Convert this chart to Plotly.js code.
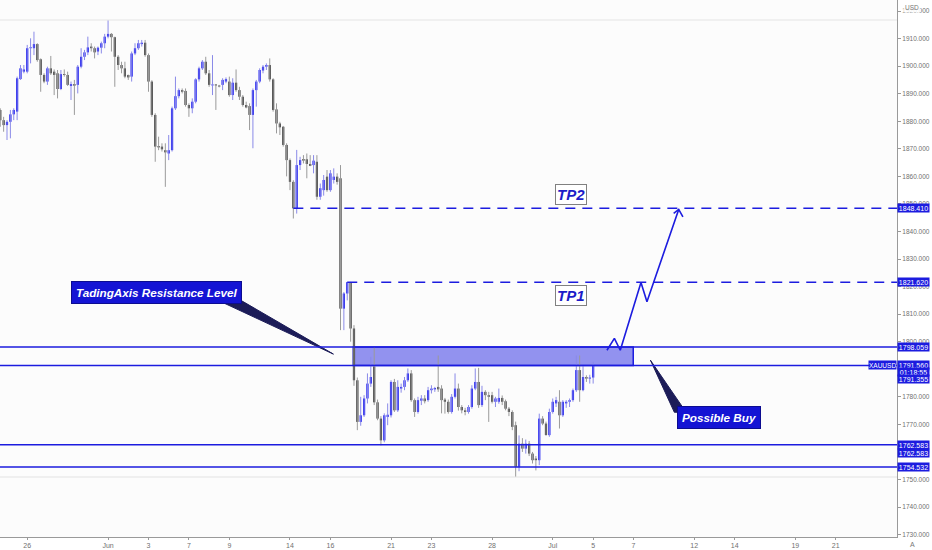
<!DOCTYPE html>
<html><head><meta charset="utf-8">
<script src="https://cdn.plot.ly/plotly-3.0.1.min.js"></script>
<style>html,body{margin:0;padding:0;background:#fff}#chart{width:932px;height:550px}</style>
</head><body><div id="chart"></div>
<script>
// ---- XAUUSD 4H candles ----
const opens  = [1884.1,1880.4,1878.6,1879.8,1882.5,1883.5,1895.3,1898.0,1898.0,1906.5,1906.5,1908.0,1902.5,1896.8,1894.4,1899.2,1898.0,1897.4,1891.7,1897.1,
1896.8,1892.8,1893.5,1893.2,1899.8,1903.4,1905.0,1907.1,1906.5,1905.3,1906.7,1908.3,1910.7,1911.7,1910.5,1903.4,1900.4,1899.2,1896.8,1896.2,
1904.6,1906.5,1908.0,1908.5,1904.0,1894.4,1882.3,1871.0,1870.8,1869.5,1868.3,1869.5,1884.7,1889.1,1891.3,1891.0,1885.9,1884.7,1887.1,1895.2,
1899.2,1901.6,1897.4,1893.0,1893.2,1892.9,1893.2,1894.4,1894.4,1889.5,1894.0,1891.3,1888.9,1885.9,1885.5,1882.3,1891.3,1894.4,1898.4,1899.8,
1900.4,1895.2,1884.3,1879.2,1878.0,1871.4,1865.9,1858.0,1848.4,1864.1,1866.3,1866.2,1864.5,1864.1,1865.3,1852.6,1855.0,1859.9,1855.0,1858.7,
1859.9,1859.3,1812.0,1817.5,1821.6,1804.8,1786.0,1770.9,1773.3,1779.4,1784.8,1791.0,1778.0,1772.1,1764.2,1772.7,1773.3,1785.4,1775.1,1783.0,
1783.6,1786.0,1788.5,1778.8,1774.5,1778.6,1779.4,1778.8,1782.4,1782.7,1783.6,1783.0,1779.0,1778.2,1774.5,1780.0,1783.0,1776.3,1775.1,1774.5,
1776.3,1783.0,1785.4,1777.0,1781.8,1780.6,1780.6,1778.2,1778.2,1779.6,1778.4,1775.7,1774.5,1769.7,1754.6,1763.0,1761.2,1763.0,1759.4,1757.6,
1757.0,1772.1,1770.3,1766.1,1774.5,1777.6,1778.2,1773.3,1777.6,1778.2,1778.8,1782.4,1789.7,1782.4,1787.2,1786.6,1787.0];
const highs  = [1884.7,1881.6,1880.4,1884.1,1884.7,1896.2,1900.4,1900.4,1907.7,1910.1,1912.5,1908.3,1902.8,1897.4,1899.8,1903.7,1898.8,1898.6,1898.6,1898.8,
1898.0,1894.4,1895.0,1900.4,1906.5,1905.9,1910.7,1908.3,1907.1,1907.1,1908.9,1911.7,1916.7,1912.0,1910.7,1904.0,1901.6,1901.6,1896.9,1905.3,
1908.3,1909.5,1909.5,1909.5,1904.6,1894.9,1882.9,1874.4,1872.0,1872.0,1875.0,1885.3,1896.2,1891.9,1891.9,1891.9,1886.5,1888.3,1895.6,1899.8,
1902.2,1903.4,1898.6,1904.0,1893.5,1893.2,1895.6,1895.9,1896.2,1895.6,1898.8,1892.5,1889.5,1887.1,1886.5,1891.9,1895.0,1899.2,1900.4,1901.0,
1902.8,1895.6,1886.5,1879.8,1878.3,1872.0,1866.5,1858.6,1869.6,1867.1,1867.7,1868.3,1867.7,1867.7,1867.7,1857.4,1860.5,1862.3,1862.3,1862.9,
1861.1,1864.1,1818.0,1821.7,1821.7,1806.0,1787.0,1780.0,1780.6,1788.5,1794.5,1798.0,1779.0,1773.0,1774.0,1777.6,1786.0,1786.5,1786.0,1784.8,
1787.2,1790.3,1789.7,1779.4,1780.0,1780.6,1780.6,1783.6,1784.2,1783.6,1795.0,1784.2,1779.6,1779.0,1781.0,1788.5,1784.8,1777.0,1776.0,1777.0,
1784.2,1790.3,1790.5,1784.0,1782.4,1781.8,1781.8,1780.0,1783.0,1780.5,1779.0,1776.3,1775.1,1771.0,1766.0,1765.0,1764.5,1764.0,1760.0,1758.5,
1773.9,1773.0,1771.0,1775.7,1779.4,1780.0,1782.4,1778.8,1778.8,1779.4,1783.0,1795.0,1795.0,1791.5,1787.8,1788.0,1792.7];
const lows   = [1878.0,1876.2,1873.2,1873.8,1880.4,1880.4,1895.0,1897.4,1897.4,1901.0,1904.0,1901.6,1890.7,1893.8,1893.2,1896.8,1889.5,1888.3,1891.3,1896.2,
1892.8,1887.7,1882.3,1890.1,1899.2,1902.2,1904.0,1905.3,1902.8,1904.0,1904.6,1906.5,1910.1,1905.3,1892.5,1898.6,1897.4,1895.6,1895.0,1894.4,
1904.0,1905.9,1907.1,1903.4,1890.7,1881.6,1865.3,1869.5,1869.0,1856.2,1865.9,1869.0,1884.1,1888.3,1890.1,1885.3,1881.6,1882.9,1886.5,1894.4,
1898.6,1896.8,1892.5,1889.5,1884.1,1892.3,1891.3,1893.8,1888.9,1887.7,1890.7,1887.7,1885.3,1884.7,1876.8,1870.2,1885.3,1893.8,1897.4,1898.6,
1894.4,1883.5,1875.6,1875.0,1870.8,1860.0,1855.0,1844.7,1846.5,1862.3,1864.7,1859.3,1863.7,1861.1,1851.5,1851.5,1853.0,1854.4,1854.4,1857.4,
1857.0,1804.2,1804.2,1815.0,1800.0,1784.0,1767.9,1769.5,1772.7,1777.6,1783.6,1777.0,1771.5,1762.4,1763.5,1769.7,1772.5,1774.5,1774.5,1781.5,
1782.4,1785.4,1778.2,1772.7,1773.9,1777.0,1777.6,1778.2,1781.2,1781.8,1781.8,1774.0,1773.9,1773.9,1773.9,1779.4,1775.0,1774.0,1773.3,1773.9,
1775.7,1782.4,1776.0,1776.3,1778.8,1770.9,1777.6,1776.3,1777.5,1777.0,1775.1,1773.0,1767.9,1750.9,1753.0,1760.0,1759.4,1758.5,1755.8,1753.3,
1755.2,1769.7,1766.0,1765.5,1773.9,1776.3,1768.5,1772.7,1776.0,1776.3,1778.2,1781.8,1778.2,1782.0,1785.4,1784.8,1784.8];
const closes = [1880.4,1878.6,1879.8,1882.5,1884.1,1895.6,1899.2,1898.8,1906.5,1906.8,1908.0,1902.2,1896.8,1894.4,1899.2,1897.4,1896.8,1891.7,1897.1,1896.8,
1893.2,1893.5,1892.9,1899.8,1903.4,1905.0,1906.8,1906.5,1905.0,1906.7,1908.3,1910.7,1911.7,1910.5,1903.4,1900.4,1899.2,1896.2,1895.9,1904.6,
1906.5,1908.3,1908.5,1904.0,1894.4,1882.3,1870.8,1870.5,1869.8,1868.7,1869.5,1884.7,1889.1,1891.3,1890.7,1885.9,1884.7,1887.1,1895.2,1899.2,
1901.6,1897.4,1893.2,1893.2,1893.0,1892.6,1895.0,1895.3,1889.5,1894.0,1891.3,1888.9,1885.9,1885.0,1882.3,1891.3,1894.4,1898.6,1899.8,1900.4,
1895.2,1884.1,1879.2,1877.8,1871.4,1865.9,1858.0,1848.4,1864.1,1865.9,1865.7,1864.5,1863.8,1865.7,1852.6,1855.7,1858.7,1855.0,1861.1,1859.9,
1858.0,1812.0,1817.5,1821.6,1804.8,1786.0,1770.9,1773.3,1779.4,1784.8,1787.2,1778.0,1772.1,1764.2,1773.3,1773.5,1785.4,1775.1,1783.6,1783.6,
1786.0,1788.5,1778.8,1774.5,1778.8,1779.4,1778.4,1782.4,1783.0,1783.2,1782.7,1778.8,1778.2,1774.5,1780.0,1783.0,1776.3,1775.1,1774.5,1776.3,
1783.0,1785.4,1777.0,1781.8,1780.6,1780.0,1778.2,1779.4,1779.6,1778.2,1775.7,1774.5,1769.1,1754.6,1763.0,1761.2,1763.0,1759.4,1757.0,1757.0,
1772.1,1770.3,1766.1,1774.5,1778.2,1778.8,1773.3,1778.2,1778.2,1778.8,1782.4,1789.7,1782.4,1787.2,1786.6,1787.0,1791.56];
const firstBarUTC = [2021, 4, 24, 16];   // first 4H bar: 24 May 2021 16:00
const barHours = 4;

// ---- axis text ----
const tickDays   = ['2021-05-26','2021-06-01','2021-06-03','2021-06-07','2021-06-09','2021-06-14','2021-06-16','2021-06-21','2021-06-23','2021-06-28','2021-07-01','2021-07-05','2021-07-07','2021-07-12','2021-07-14','2021-07-19','2021-07-21'];
const tickLabels = ['26','Jun','3','7','9','14','16','21','23','28','Jul','5','7','12','14','19','21'];

// ---- drawings (bar index, price) ----
const solidLevels  = [1798.059, 1791.355, 1762.583, 1754.532];
const targetPrices = [1848.410, 1821.620];
const targetStart  = [87, 103];
const targetNames  = ['TP2', 'TP1'];
const targetLabelBar = 169.5;
const targetLabelPrice = [1853.6, 1816.9];
const zoneBars   = [104.8, 187.9];
const zonePrices = [1791.355, 1798.059];
const pathBars   = [180.1, 182.3, 184.05, 190.2, 191.97, 201.4];
const pathPrices = [1796.9, 1801.2, 1796.9, 1821.5, 1814.5, 1848.0];
const headBars   = [199.9, 201.4, 202.65];
const headPrices = [1846.6, 1848.0, 1845.3];
const calloutText   = ['TadingAxis Resistance Level', 'Possible Buy'];
const calloutBar    = [46.4, 213.3];
const calloutPrice  = [1818.0, 1772.4];
const tailBars   = [[64.5, 71.3, 98.9], [200.1, 203.6, 193.0]];
const tailPrices = [[1815.1, 1815.1, 1795.5], [1774.4, 1774.4, 1793.3]];
const lastPrice = 1791.560, countdown = '01:18:55', symbol = 'XAUUSD', currency = 'USD';
const tagPrices = [1848.410, 1821.620, 1798.059, 1762.583, 1754.532];
const viewBars = [-0.08, 266.2];
const faintPrice = 1750.9;

// ---- time helpers ----
const H = 3600e3;
const slots = [];
(function(){
  let t = Date.UTC(...firstBarUTC);
  while (slots.length < 300) {
    const wd = new Date(t).getUTCDay();
    if (wd !== 0 && wd !== 6) slots.push(t);
    t += barHours * H;
  }
})();
const fmt = ms => new Date(ms).toISOString().slice(0,19).replace('T',' ');
function barTime(f){
  if (f < 0) return fmt(slots[0] + f*barHours*H);
  const i = Math.floor(f);
  return fmt(slots[i] + (f-i)*barHours*H);
}
const times = opens.map((_, i) => fmt(slots[i]));

const BLUE = '#1c1cdf';
const UP = '#1414f2', DOWN = '#333333';

// wicks
const wu = {x:[], y:[]}, wd = {x:[], y:[]};
opens.forEach((o,i)=>{
  const w = closes[i] >= o ? wu : wd;
  w.x.push(times[i], times[i], null); w.y.push(lows[i], highs[i], null);
});
const traces = [
  {type:'scatter', mode:'lines', x:wu.x, y:wu.y, line:{color:'#8a8ae8', width:1}, hoverinfo:'skip'},
  {type:'scatter', mode:'lines', x:wd.x, y:wd.y, line:{color:'#9a9a9a', width:1}, hoverinfo:'skip'},
  {type:'bar', x:times,
    base: opens.map((o,i)=>Math.min(o,closes[i])),
    y: opens.map((o,i)=>Math.max(Math.abs(closes[i]-o), 0.35)),
    width: barHours*H*0.66,
    marker:{color: opens.map((o,i)=> closes[i] >= o ? UP : DOWN), line:{width:0}}, hoverinfo:'skip'},
  {type:'scatter', mode:'lines', x:pathBars.map(barTime), y:pathPrices, line:{color:BLUE, width:1.6}},
  {type:'scatter', mode:'lines', x:headBars.map(barTime), y:headPrices, line:{color:BLUE, width:1.6}},
];
tailBars.forEach((tb,k)=>{
  traces.push({type:'scatter', mode:'lines', x:tb.map(barTime).concat([barTime(tb[0])]), y:tailPrices[k].concat([tailPrices[k][0]]),
    fill:'toself', fillcolor:'#1c1c58', line:{color:'#1c1c58', width:1}});
});

const shapes = [
  {type:'line', xref:'paper', x0:0, x1:1, yref:'paper', y0:1-20/537, y1:1-20/537, line:{color:'#e4e4e4', width:1}},
  {type:'line', xref:'paper', x0:0, x1:1, yref:'y', y0:faintPrice, y1:faintPrice, line:{color:'#e2e2e2', width:1}},
  {type:'rect', layer:'below', xref:'x', yref:'y', x0:barTime(zoneBars[0]), x1:barTime(zoneBars[1]), y0:zonePrices[0], y1:zonePrices[1],
    fillcolor:'rgba(40,40,225,0.5)', line:{color:BLUE, width:1.5}},
];
solidLevels.forEach(p=>shapes.push({type:'line', xref:'paper', x0:0, x1:1, yref:'y', y0:p, y1:p, line:{color:BLUE, width:1.5}}));
targetPrices.forEach((p,k)=>shapes.push({type:'line', xref:'x', x0:barTime(targetStart[k]), x1:barTime(viewBars[1]), yref:'y', y0:p, y1:p,
  line:{color:BLUE, width:1.5, dash:'10px,7px'}}));

const tagFont = {family:'Liberation Sans', size:7, color:'#ffffff'};
const tag = (y, text, extra) => Object.assign({xref:'paper', x:1, xanchor:'left', yref:'y', y:y, yanchor:'middle',
  text:text, showarrow:false, bgcolor:BLUE, borderpad:0, font:tagFont, width:31, height:8}, extra||{});
const annotations = [];
tagPrices.forEach(p=>annotations.push(tag(p, p.toFixed(3))));
annotations.push(tag(solidLevels[2], solidLevels[2].toFixed(3), {yshift:-8}));
annotations.push(tag(lastPrice, lastPrice.toFixed(3)));
annotations.push(tag(lastPrice, countdown, {yshift:-7}));
annotations.push(tag(lastPrice, solidLevels[1].toFixed(3), {yshift:-14}));
annotations.push({xref:'paper', x:1, xanchor:'right', yref:'y', y:lastPrice, text:symbol, showarrow:false, bgcolor:BLUE, borderpad:0,
  height:8, font:{family:'Liberation Sans', size:6.5, color:'#fff'}});
annotations.push({xref:'paper', x:1, xanchor:'left', xshift:6, yref:'paper', y:1, yanchor:'top', yshift:-2, text:currency, showarrow:false,
  bgcolor:'rgba(255,255,255,0.85)', font:{family:'Liberation Sans', size:6.5, color:'#777'}});
annotations.push({xref:'paper', x:1, xanchor:'left', xshift:11, yref:'paper', y:0, yanchor:'top', yshift:-2, text:'A', showarrow:false,
  font:{family:'Liberation Sans', size:7, color:'#777'}});
targetNames.forEach((n,k)=>annotations.push({xref:'x', x:barTime(targetLabelBar), yref:'y', y:targetLabelPrice[k], text:'<b><i>'+n+'</i></b>',
  showarrow:false, bgcolor:'#ffffff', bordercolor:'#808080', borderwidth:1, borderpad:1, font:{family:'Liberation Sans', size:15, color:'#1c1cc8'}}));
calloutText.forEach((t,k)=>annotations.push({xref:'x', x:barTime(calloutBar[k]), yref:'y', y:calloutPrice[k], text:'<b><i>'+t+'</i></b>',
  showarrow:false, bgcolor:'#1414d4', bordercolor:'#0c0c90', borderwidth:1, borderpad:4, font:{family:'Liberation Sans', size:11.7, color:'#ffffff'}}));

const layout = {
  width:932, height:550, margin:{l:0, r:35, t:0, b:13},
  paper_bgcolor:'#ffffff', plot_bgcolor:'#fcfcfc', showlegend:false, hovermode:false, barmode:'overlay',
  xaxis:{type:'date', range:[barTime(viewBars[0]), barTime(viewBars[1])], rangebreaks:[{bounds:['sat','mon']}],
    tickvals:tickDays.map(d=>d+' 00:00'), ticktext:tickLabels, ticks:'outside', ticklen:2, tickcolor:'#999',
    showgrid:false, zeroline:false, showline:true, linecolor:'#9a9a9a', linewidth:1,
    tickfont:{family:'Liberation Sans', size:7, color:'#707070'}, automargin:false, fixedrange:true},
  yaxis:{side:'right', range:[1729.13, 1924.0], dtick:10, tick0:1730, tickformat:'.3f', ticks:'outside', ticklen:3, tickcolor:'#999',
    showgrid:false, zeroline:false, showline:true, linecolor:'#9a9a9a', linewidth:1,
    tickfont:{family:'Liberation Sans', size:6.5, color:'#707070'}, automargin:false, fixedrange:true},
  shapes, annotations
};
Plotly.newPlot('chart', traces, layout, {staticPlot:true, displayModeBar:false});
</script></body></html>
